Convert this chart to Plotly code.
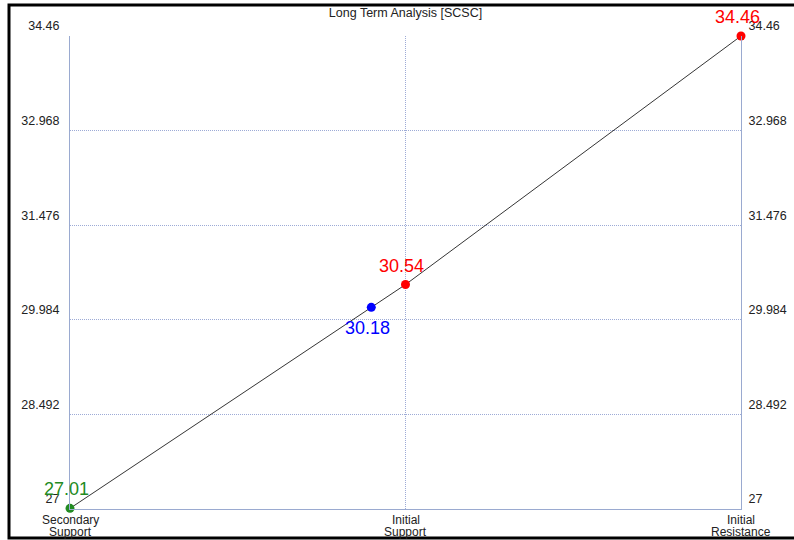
import plotly.graph_objects as go

# Data
categories = [["Secondary", "Support"], ["Initial", "Support"], ["Initial", "Resistance"]]
cat_pos = [0, 1, 2]
point_x = [0, 0.898, 1, 2]
point_y = [27.01, 30.18, 30.54, 34.46]
point_colors = ["#228B22", "#0000FF", "#FF0000", "#FF0000"]
label_pos = ["top", "bottom", "top", "top"]
y_ticks = [27, 28.492, 29.984, 31.476, 32.968, 34.46]
y_tick_text = ["27", "28.492", "29.984", "31.476", "32.968", "34.46"]
title = "Long Term Analysis [SCSC]"

FONT = "Arial, Liberation Sans, sans-serif"
GRID = "#9dabd6"
AXIS = "#9aaad0"

fig = go.Figure()
fig.add_trace(go.Scatter(
    x=point_x, y=point_y, mode="lines+markers",
    line=dict(color="#000000", width=0.8),
    marker=dict(color=point_colors, size=9),
    showlegend=False, hoverinfo="skip", cliponaxis=False,
))
# invisible trace on right axis for mirrored labels
fig.add_trace(go.Scatter(x=point_x, y=point_y, yaxis="y2", mode="markers",
                         marker=dict(opacity=0), showlegend=False, hoverinfo="skip"))

for x, y, c, p in zip(point_x, point_y, point_colors, label_pos):
    fig.add_annotation(
        x=x, y=y, text=f"{y:.2f}", showarrow=False,
        font=dict(family=FONT, size=18, color=c),
        xshift=-4, yshift=19 if p == "top" else -21,
    )

# category labels (two tightly spaced lines)
for x, lines in zip(cat_pos, categories):
    for i, line in enumerate(lines):
        fig.add_annotation(
            x=x, xref="x", y=0, yref="paper", text=line, showarrow=False,
            xanchor="center", yanchor="middle", yshift=-11 - 12 * i,
            font=dict(family=FONT, size=12, color="#222222"),
        )

yaxis_common = dict(
    range=[27, 34.46], tickvals=y_ticks, ticktext=y_tick_text,
    tickfont=dict(family=FONT, size=12.5, color="#222222"),
    ticks="", ticklabelshift=-10, automargin=False,
    zeroline=False,
)

fig.update_layout(
    width=794, height=540,
    margin=dict(l=70, r=53, t=36, b=31, autoexpand=False),
    paper_bgcolor="white", plot_bgcolor="white",
    title=dict(text=title, x=0.5, xref="paper", xanchor="center",
               y=1 - 13 / 540, yref="container", yanchor="middle",
               automargin=False,
               font=dict(family=FONT, size=12.5, color="#222222")),
    xaxis=dict(
        range=[0, 2], tickvals=cat_pos, showticklabels=False,
        showgrid=True, gridcolor=GRID, griddash="1px,1px", gridwidth=1,
        showline=True, linecolor=AXIS, linewidth=1, ticks="", zeroline=False,
        automargin=False,
    ),
    yaxis=dict(**yaxis_common, showgrid=True, gridcolor=GRID, griddash="1px,1px",
               gridwidth=1, showline=True, linecolor=AXIS, linewidth=1, side="left",
               ticklabelstandoff=7),
    yaxis2=dict(**yaxis_common, overlaying="y", side="right", showgrid=False,
                showline=True, linecolor=AXIS, linewidth=1, ticklabelstandoff=4),
    shapes=[dict(type="rect", xref="paper", yref="paper",
                 x0=(9 - 70) / 671, x1=(800 - 70) / 671,
                 y0=-(538 - 509) / 473, y1=1 + (36 - 5) / 473,
                 line=dict(color="#000000", width=3), layer="above")],
)

fig.write_html(
    "out.html",
    config={"displayModeBar": False},
    post_script="document.body.style.margin='0';document.body.style.overflow='hidden';",
)
